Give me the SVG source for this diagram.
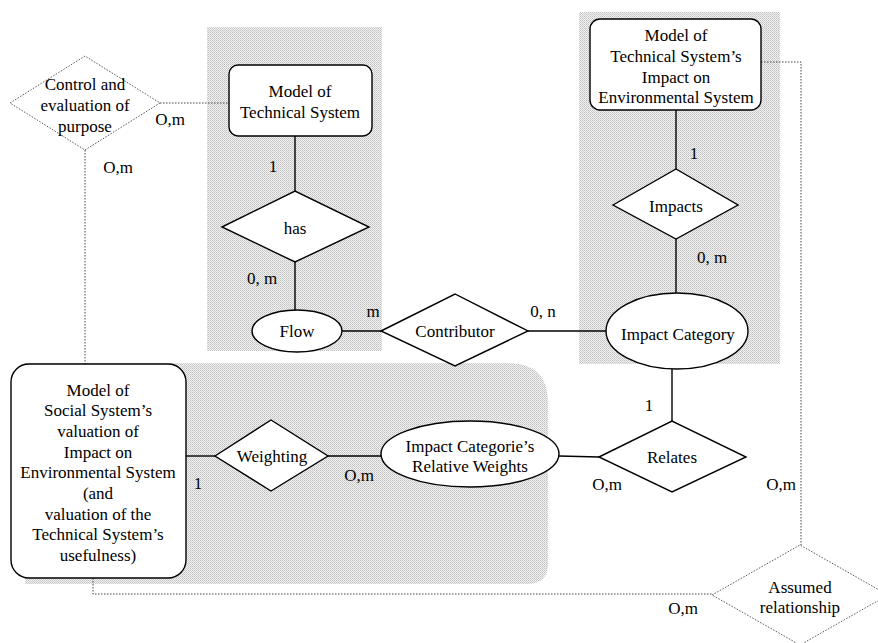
<svg xmlns="http://www.w3.org/2000/svg" width="878" height="643" viewBox="0 0 878 643">
<defs>
<pattern id="stip" width="2" height="2" patternUnits="userSpaceOnUse">
<rect width="2" height="2" fill="#f2f2f2"/>
<rect width="1" height="1" fill="#c0c0c0"/>
<rect x="1" y="1" width="1" height="1" fill="#d0d0d0"/>
</pattern>
<style>
text{font-family:'Liberation Serif','Times New Roman',serif;font-size:17px;fill:#000;text-anchor:middle}
.s{fill:#fff;stroke:#000;stroke-width:1.4}
.d{fill:#fff;stroke:#555;stroke-width:1;stroke-dasharray:1.5 1.5}
.c{fill:none;stroke:#000;stroke-width:1.4}
.dc{fill:none;stroke:#444;stroke-width:1;stroke-dasharray:1.5 1.5}
.bg{fill:url(#stip);stroke:none}
</style>
</defs>
<rect width="878" height="643" fill="#fff"/>
<g id="shading">
<rect class="bg" x="207" y="27" width="175" height="324"/>
<rect class="bg" x="579" y="12" width="201" height="352"/>
<path class="bg" d="M25,363 H508 Q548,363 548,403 V563 Q548,584 527,584 H25 Z"/>
</g>
<g id="connectors">
<line class="c" x1="295" y1="136" x2="295" y2="191"/>
<line class="c" x1="295" y1="262" x2="295" y2="310"/>
<line class="c" x1="342" y1="331" x2="381" y2="331"/>
<line class="c" x1="528" y1="331" x2="606" y2="331"/>
<line class="c" x1="676" y1="110" x2="676" y2="169"/>
<line class="c" x1="676" y1="239" x2="676" y2="293"/>
<line class="c" x1="672" y1="369" x2="672" y2="421"/>
<line class="c" x1="186" y1="456" x2="215" y2="456"/>
<line class="c" x1="328" y1="456" x2="381" y2="456"/>
<line class="c" x1="559" y1="456" x2="599" y2="457"/>
<line class="dc" x1="160" y1="103" x2="230" y2="103"/>
<line class="dc" x1="85" y1="150" x2="85" y2="364"/>
<polyline class="dc" points="761,62 801,62 801,545"/>
<polyline class="dc" points="93,578 93,594 712,594"/>
</g>
<g id="labels">
<text x="170" y="125">O,m</text>
<text x="118" y="173">O,m</text>
<text x="273" y="172">1</text>
<text x="262" y="284">0, m</text>
<text x="373" y="317">m</text>
<text x="543" y="317">0, n</text>
<text x="694" y="159">1</text>
<text x="712" y="263">0, m</text>
<text x="649" y="411">1</text>
<text x="607" y="490">O,m</text>
<text x="781" y="490">O,m</text>
<text x="198" y="489">1</text>
<text x="359" y="481">O,m</text>
<text x="683" y="614">O,m</text>
</g>
<g id="control">
<polygon class="d" points="10,103 85,56 160,103 85,150"/>
<text x="85" y="90">Control and</text>
<text x="85" y="111">evaluation of</text>
<text x="85" y="132">purpose</text>
</g>
<g id="model-technical">
<rect class="s" x="229" y="65" width="143" height="71" rx="9"/>
<text x="300" y="97">Model of</text>
<text x="300" y="118">Technical System</text>
</g>
<g id="has">
<polygon class="s" points="222,227 295,191 369,227 295,262"/>
<text x="295" y="234">has</text>
</g>
<g id="flow">
<ellipse class="s" cx="297" cy="331" rx="45" ry="21"/>
<text x="297" y="337">Flow</text>
</g>
<g id="contributor">
<polygon class="s" points="381,331 455,294 528,331 455,366"/>
<text x="455" y="337">Contributor</text>
</g>
<g id="model-impact">
<rect class="s" x="590" y="19" width="171" height="91" rx="10"/>
<text x="676" y="41">Model of</text>
<text x="676" y="62">Technical System’s</text>
<text x="676" y="83">Impact on</text>
<text x="676" y="103">Environmental System</text>
</g>
<g id="impacts">
<polygon class="s" points="613,205 676,169 738,205 676,239"/>
<text x="676" y="212">Impacts</text>
</g>
<g id="impact-category">
<ellipse class="s" cx="677" cy="331" rx="71" ry="38"/>
<text x="678" y="340">Impact Category</text>
</g>
<g id="relates">
<polygon class="s" points="599,457 672,421 746,457 672,492"/>
<text x="672" y="463">Relates</text>
</g>
<g id="relative-weights">
<ellipse class="s" cx="470" cy="454" rx="89" ry="33"/>
<text x="470" y="452">Impact Categorie’s</text>
<text x="470" y="472">Relative Weights</text>
</g>
<g id="weighting">
<polygon class="s" points="215,456 271,420 328,456 271,491"/>
<text x="272" y="462">Weighting</text>
</g>
<g id="model-social">
<rect class="s" x="11" y="364" width="175" height="214" rx="18"/>
<text x="98" y="396">Model of</text>
<text x="98" y="416">Social System’s</text>
<text x="98" y="437">valuation of</text>
<text x="98" y="458">Impact on</text>
<text x="98" y="478">Environmental System</text>
<text x="98" y="499">(and</text>
<text x="98" y="520">valuation of the</text>
<text x="98" y="540">Technical System’s</text>
<text x="98" y="561">usefulness)</text>
</g>
<g id="assumed">
<polygon class="d" points="712,595 800,545 888,595 800,645"/>
<text x="800" y="593">Assumed</text>
<text x="800" y="613">relationship</text>
</g>
</svg>
